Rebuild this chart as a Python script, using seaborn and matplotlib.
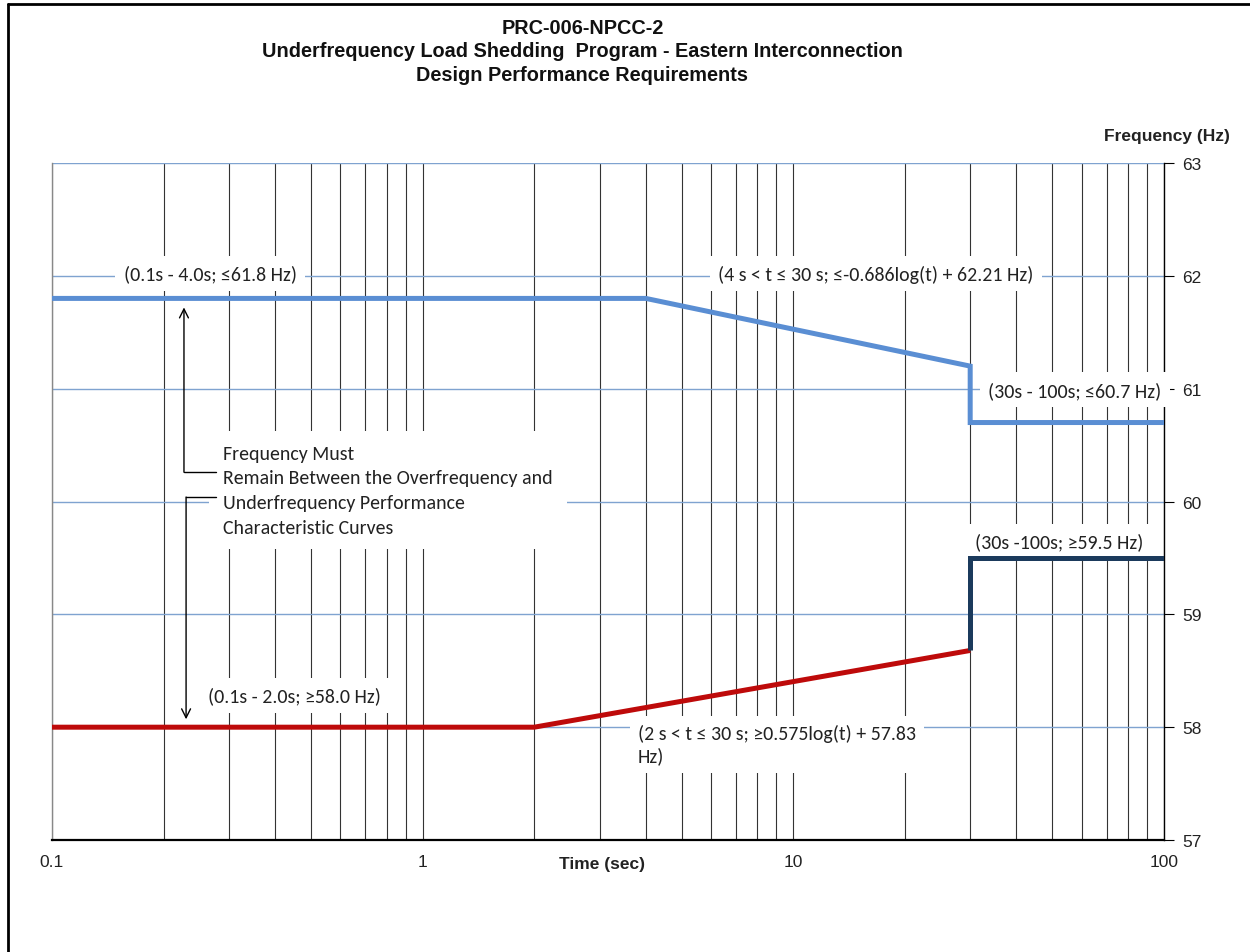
import matplotlib
matplotlib.use("Agg")
import matplotlib.pyplot as plt
import matplotlib.ticker as mticker
from matplotlib import font_manager
import numpy as np
import pandas as pd
import seaborn as sns

# overfrequency curve (upper limit)
over_t = [0.1, 4.0, 30.0, 30.0, 100.0]
over_f = [61.8, 61.8, 61.2, 60.7, 60.7]

# underfrequency curve (lower limit) up to 30 s
under_t = [0.1, 2.0, 30.0]
under_f = [58.0, 58.0, 58.68]

# underfrequency step after 30 s
under2_t = [30.0, 30.0, 100.0]
under2_f = [58.68, 59.5, 59.5]

x_ticks = [0.1, 1, 10, 100]
x_tick_labels = ["0.1", "1", "10", "100"]
y_ticks = [57, 58, 59, 60, 61, 62, 63]

title = ("PRC-006-NPCC-2\n"
         "Underfrequency Load Shedding  Program - Eastern Interconnection\n"
         "Design Performance Requirements")

installed = {f.name for f in font_manager.fontManager.ttflist}


def pick(*names):
    for n in names:
        if n in installed:
            return n
    return "DejaVu Sans"


narrow = pick("Liberation Sans Narrow", "Liberation Sans")
body = pick("Carlito", "Lato", "Open Sans")

df = pd.concat([
    pd.DataFrame({"t": over_t, "f": over_f, "curve": "over"}),
    pd.DataFrame({"t": under_t, "f": under_f, "curve": "under"}),
    pd.DataFrame({"t": under2_t, "f": under2_f, "curve": "under2"}),
])

sns.set_style("white")
plt.rcParams["font.family"] = [narrow, "DejaVu Sans"]

fig = plt.figure(figsize=(12.5, 9.53), dpi=100)
ax = fig.add_axes([0.0416, 0.1175, 0.8896, 0.7104])

palette = {"over": "#5A8ED3", "under": "#BE0A0A", "under2": "#1B3A5C"}
sns.lineplot(data=df, x="t", y="f", hue="curve", palette=palette, sort=False,
             estimator=None, units="curve", linewidth=3.6, legend=False, ax=ax,
             zorder=5)
for line in ax.lines:
    line.set_solid_joinstyle("miter")
    line.set_solid_capstyle("butt")

ax.set_xscale("log")
ax.set_xlim(0.1, 100)
ax.set_ylim(57, 63)
ax.xaxis.set_major_locator(mticker.FixedLocator(x_ticks))
ax.xaxis.set_major_formatter(mticker.FixedFormatter(x_tick_labels))
ax.xaxis.set_minor_locator(mticker.LogLocator(base=10, subs=np.arange(2, 10)))
ax.xaxis.set_minor_formatter(mticker.NullFormatter())
ax.set_yticks(y_ticks)
ax.yaxis.tick_right()

ax.grid(axis="x", which="both", color="#333333", linewidth=0.8)
ax.grid(axis="y", which="major", color="#7FA3D0", linewidth=1.0)
ax.set_axisbelow(True)

ax.tick_params(axis="x", which="major", direction="out", length=6, width=0.8,
               labelsize=12.5, pad=4, colors="black")
ax.tick_params(axis="x", which="minor", length=0)
ax.tick_params(axis="y", which="major", direction="out", length=7, width=0.8,
               labelsize=12.5, pad=6, right=True, left=False, colors="black")
for lbl in ax.get_xticklabels() + ax.get_yticklabels():
    lbl.set_color("#222222")

ax.spines["top"].set_visible(False)
ax.spines["left"].set_color("#888888")
ax.spines["left"].set_linewidth(1.0)
ax.spines["right"].set_color("black")
ax.spines["right"].set_linewidth(1.0)
ax.spines["bottom"].set_color("black")
ax.spines["bottom"].set_linewidth(1.6)

ax.set_xlabel("")
ax.set_ylabel("")
ax.text(0.495, -0.034, "Time (sec)", transform=ax.transAxes, ha="center",
        va="center", fontsize=12.5, fontweight="bold", color="#222222")
ax.text(1.059, 1.04, "Frequency (Hz)", transform=ax.transAxes, ha="right",
        va="center", fontsize=12.5, fontweight="bold", color="#222222")

fig.text(0.466, 0.9455, title, ha="center", va="center", fontsize=14.3,
         fontweight="bold", linespacing=1.3, color="#111111")

box = dict(facecolor="white", edgecolor="none", pad=6)
tkw = dict(fontsize=14.3, family=[body, "DejaVu Sans"], color="#222222",
           bbox=box, zorder=4)

ax.text(0.156, 62.02, "(0.1s - 4.0s; \u226461.8 Hz)", ha="left", va="center", **tkw)
ax.text(6.27, 62.02, "(4 s < t \u2264 30 s; \u2264-0.686log(t) + 62.21 Hz)",
        ha="left", va="center", **tkw)
ax.text(33.5, 60.99, "(30s - 100s; \u226460.7 Hz)", ha="left", va="center", **tkw)
ax.text(30.9, 59.65, "(30s -100s; \u226559.5 Hz)", ha="left", va="center", **tkw)
ax.text(0.264, 58.28, "(0.1s - 2.0s; \u226558.0 Hz)", ha="left", va="center", **tkw)
ax.text(3.81, 57.85, "(2 s < t \u2264 30 s; \u22650.575log(t) + 57.83\nHz)",
        ha="left", va="center", linespacing=1.3, **tkw)
ax.text(0.29, 60.10,
        "Frequency Must\nRemain Between the Overfrequency and\n"
        "Underfrequency Performance\nCharacteristic Curves",
        ha="left", va="center", linespacing=1.54,
        fontsize=14.3, family=[body, "DejaVu Sans"], color="#222222",
        bbox=dict(facecolor="white", edgecolor="none", pad=10), zorder=4)

# connector arrows
ax.plot([0.227, 0.277], [60.26, 60.26], color="black", lw=1.0, zorder=6)
ax.annotate("", xy=(0.227, 61.72), xytext=(0.227, 60.26),
            arrowprops=dict(arrowstyle="->", lw=1.0, color="black",
                            shrinkA=0, shrinkB=0, mutation_scale=16), zorder=6)
ax.plot([0.23, 0.277], [60.04, 60.04], color="black", lw=1.0, zorder=6)
ax.annotate("", xy=(0.23, 58.07), xytext=(0.23, 60.04),
            arrowprops=dict(arrowstyle="->", lw=1.0, color="black",
                            shrinkA=0, shrinkB=0, mutation_scale=16), zorder=6)

# outer frame fragments (top and left edge)
fig.add_artist(plt.Line2D([0.0064, 1.0], [0.9948, 0.9948], color="black",
                          lw=2.0, transform=fig.transFigure))
fig.add_artist(plt.Line2D([0.0064, 0.0064], [0.0, 0.9948], color="black",
                          lw=2.0, transform=fig.transFigure))

fig.savefig("out.png", dpi=100)
